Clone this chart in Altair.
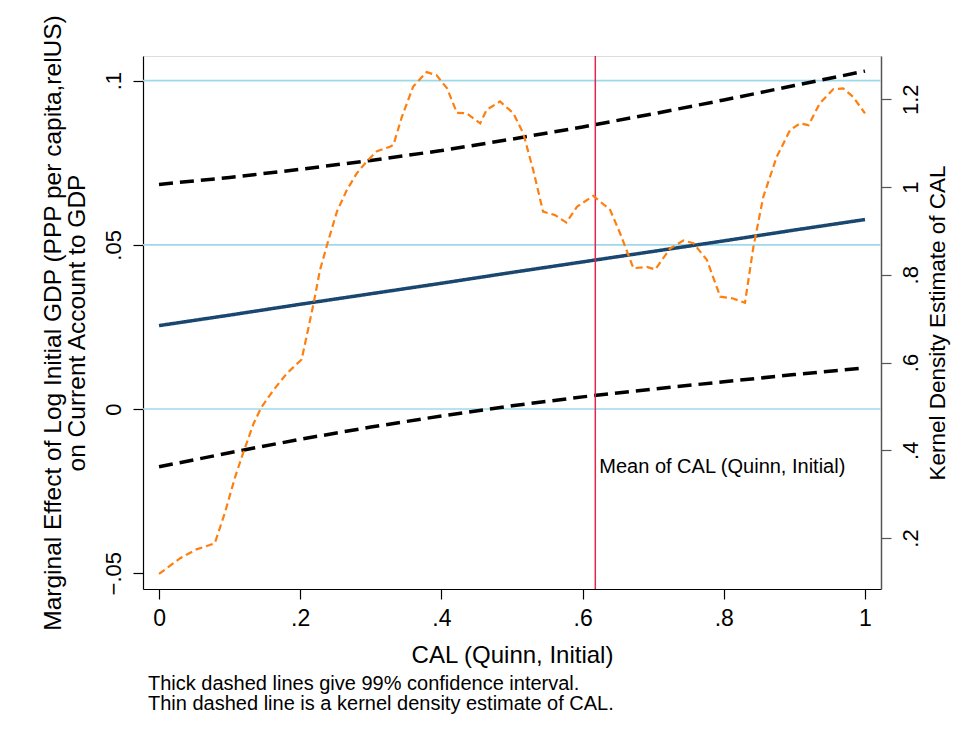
import altair as alt
import pandas as pd

# ---- data ----
cal_x = [0.0, 0.1, 0.2, 0.3, 0.4, 0.5, 0.6, 0.7, 0.8, 0.9, 1.0]
me_center = [0.0254, 0.0286, 0.0319, 0.0351, 0.0383, 0.0416, 0.0448, 0.0480, 0.0512, 0.0545, 0.0577]
me_upper = [0.0684, 0.0705, 0.0730, 0.0757, 0.0787, 0.0822, 0.0859, 0.0899, 0.0941, 0.0985, 0.1029]
me_lower = [-0.0176, -0.0133, -0.0092, -0.0055, -0.0021, 0.0010, 0.0037, 0.0061, 0.0083, 0.0105, 0.0125]

kd_x = [0.000, 0.030, 0.053, 0.079, 0.093, 0.108, 0.119, 0.134, 0.145, 0.162, 0.181, 0.202,
        0.211, 0.219, 0.228, 0.240, 0.252, 0.266, 0.280, 0.294, 0.308, 0.327, 0.332, 0.344,
        0.360, 0.379, 0.393, 0.408, 0.422, 0.436, 0.455, 0.464, 0.483, 0.502, 0.516, 0.530,
        0.544, 0.561, 0.577, 0.592, 0.615, 0.639, 0.653, 0.672, 0.691, 0.703, 0.724, 0.743,
        0.757, 0.776, 0.795, 0.813, 0.830, 0.842, 0.856, 0.875, 0.894, 0.908, 0.920, 0.936,
        0.955, 0.969, 0.983, 1.000]
kd_y = [0.118, 0.154, 0.174, 0.188, 0.256, 0.340, 0.393, 0.461, 0.498, 0.537, 0.575, 0.607,
        0.674, 0.735, 0.811, 0.879, 0.944, 0.993, 1.031, 1.058, 1.081, 1.092, 1.096, 1.160,
        1.229, 1.262, 1.255, 1.225, 1.169, 1.168, 1.145, 1.176, 1.195, 1.168, 1.122, 1.039,
        0.944, 0.936, 0.919, 0.955, 0.980, 0.948, 0.895, 0.815, 0.818, 0.812, 0.860, 0.878,
        0.872, 0.834, 0.750, 0.746, 0.736, 0.864, 0.978, 1.069, 1.130, 1.145, 1.141, 1.191,
        1.223, 1.225, 1.206, 1.168]

grid_vals = [0.0, 0.05, 0.1]
mean_cal = [0.618]
mean_label = ["Mean of CAL (Quinn, Initial)"]
mean_label_y = [-0.0176]

x_ticks = [0, 0.2, 0.4, 0.6, 0.8, 1]
left_ticks = [-0.05, 0, 0.05, 0.1]
right_ticks = [0.2, 0.4, 0.6, 0.8, 1.0, 1.2]

left_title = ["Marginal Effect of Log Initial GDP (PPP per capita,relUS)", "on Current Account to GDP"]
right_title = "Kernel Density Estimate of CAL"
x_title = "CAL (Quinn, Initial)"
footnote = ["Thick dashed lines give 99% confidence interval.",
            "Thin dashed line is a kernel density estimate of CAL."]

# ---- tables ----
rows = []
for name, vals in [("upper", me_upper), ("lower", me_lower), ("center", me_center)]:
    for xv, yv in zip(cal_x, vals):
        rows.append({"x": xv, "value": yv, "series": name})
lines_df = pd.DataFrame(rows)
grid_df = pd.DataFrame({"value": grid_vals})
mean_df = pd.DataFrame({"x": mean_cal})
label_df = pd.DataFrame({"x": mean_cal, "value": mean_label_y, "label": mean_label})
kd_df = pd.DataFrame({"x": kd_x, "density": kd_y})

FONT = "Liberation Sans"
W, H = 738, 533
label_expr = "replace(format(datum.value, '.2~f'), '0.', '.')"

x_scale = alt.Scale(domain=[-0.0227, 1.0227], nice=False, zero=False)
x_axis = alt.Axis(values=x_ticks, labelExpr=label_expr, tickSize=10, labelFontSize=23,
                  labelPadding=8, labelFont=FONT, labelColor="black", domainColor="black",
                  tickColor="black", domainWidth=1.2, tickWidth=1.2, grid=False, labelFlush=False,
                  title=x_title, titleFont=FONT, titleFontSize=24, titleFontWeight="normal",
                  titleColor="black", titleX=W / 2, titleY=66, titleBaseline="middle",
                  titleAlign="center")
X = alt.X("x:Q", scale=x_scale, axis=x_axis)

yl_scale = alt.Scale(domain=[-0.0548, 0.1075], nice=False, zero=False)
yl_axis = alt.Axis(values=left_ticks, labelExpr=label_expr, tickSize=10, labelFontSize=22,
                   labelPadding=8, labelAngle=270, labelAlign="center", labelBaseline="bottom",
                   labelFont=FONT, labelColor="black", domainColor="black", tickColor="black",
                   domainWidth=1.2, tickWidth=1.2, grid=False, labelFlush=False,
                   title=left_title, titleFont=FONT, titleFontSize=24.5, titleFontWeight="normal",
                   titleColor="black", titleAngle=270, titleX=-90, titleY=H / 2,
                   titleAlign="center", titleBaseline="middle", titleLineHeight=24)
YL = alt.Y("value:Q", scale=yl_scale, axis=yl_axis)

yr_scale = alt.Scale(domain=[0.0837, 1.2987], nice=False, zero=False)
yr_axis = alt.Axis(orient="right", values=right_ticks, labelExpr=label_expr, tickSize=10,
                   labelFontSize=22, labelPadding=9, labelAngle=270, labelAlign="center",
                   labelBaseline="top", labelFont=FONT, labelColor="black",
                   domainColor="#555555", tickColor="#555555", domainWidth=1.5, tickWidth=1.2,
                   grid=False, labelFlush=False,
                   title=right_title, titleFont=FONT, titleFontSize=22.5, titleFontWeight="normal",
                   titleColor="black", titleAngle=270, titleX=56, titleY=H / 2,
                   titleAlign="center", titleBaseline="middle")

grid = alt.Chart(grid_df).mark_rule(color="#9fd8ea", strokeWidth=1.6).encode(y=YL)

ci = alt.Chart(lines_df).mark_line().encode(
    x=X, y=YL,
    color=alt.Color("series:N", scale=alt.Scale(domain=["upper", "lower", "center"],
                                                range=["black", "black", "#1a476f"]), legend=None),
    strokeDash=alt.StrokeDash("series:N", scale=alt.Scale(domain=["upper", "lower", "center"],
                                                           range=[[14, 7], [14, 7], [1, 0]]), legend=None),
    strokeWidth=alt.StrokeWidth("series:N", scale=alt.Scale(domain=["upper", "lower", "center"],
                                                             range=[3.5, 3.5, 2.2]), legend=None),
    detail="series:N",
)

vline = alt.Chart(mean_df).mark_rule(color="#e0284f", strokeWidth=1.5).encode(x=X)

txt = alt.Chart(label_df).mark_text(align="left", baseline="middle", dx=4, fontSize=20,
                                    font=FONT, color="black").encode(x=X, y=YL, text="label:N")

left = alt.layer(grid, ci, vline, txt)

dens = alt.Chart(kd_df).mark_line(color="#ff7f0e", strokeDash=[7, 4], strokeWidth=2.2).encode(
    x=X, y=alt.Y("density:Q", scale=yr_scale, axis=yr_axis))

chart = alt.layer(left, dens).resolve_scale(y="independent").properties(
    width=W, height=H,
    autosize=alt.AutoSizeParams(type="none"),
    padding={"left": 135, "top": 48, "right": 81, "bottom": 130},
    title=alt.TitleParams(text=footnote, orient="bottom", anchor="start", frame="group",
                          dx=5, offset=7, fontSize=20, lineHeight=20, font=FONT,
                          fontWeight="normal", color="black", baseline="top"),
).configure_view(stroke=None).configure(background="white")

chart.save("out.html", embed_options={"renderer": "svg", "actions": False})
